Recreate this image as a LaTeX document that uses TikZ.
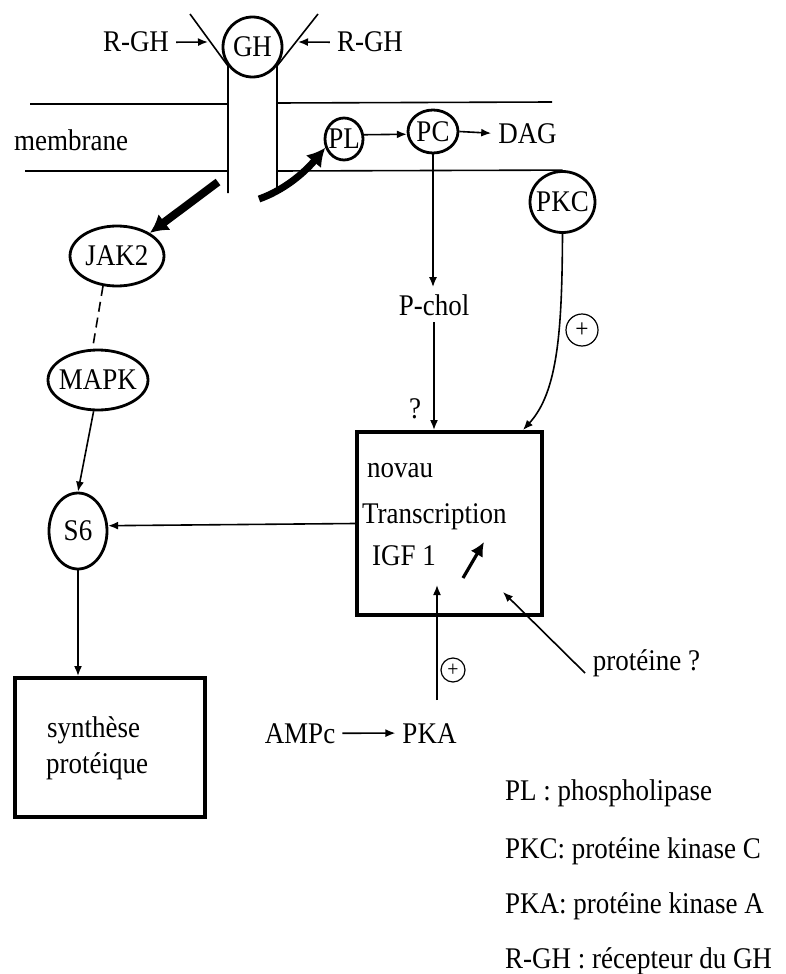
\documentclass[tikz,border=0pt]{standalone}
\usepackage{fontspec}
\setmainfont{Liberation Serif}[FakeStretch=0.9]
\usepackage{tikz}
\usetikzlibrary{calc,shapes,arrows,arrows.meta}

\begin{document}
\begin{tikzpicture}[x=0.5pt,y=-0.5pt,
  font=\fontsize{15}{18}\selectfont,
  >={Latex[length=5pt,width=4pt]},
  mol/.style={draw,ellipse,line width=1.4pt,inner sep=0pt},
  signe/.style={draw,circle,line width=0.6pt,inner sep=0pt,minimum size=#1,font=\fontsize{13}{13}\selectfont},
  fat/.style={line width=4pt,-{Latex[length=9pt,width=10pt]}},
  lien/.style={line width=0.8pt}]
\useasboundingbox (0,0) rectangle (786,974);

% membrane et recepteur
\draw[lien] (30,104) -- (228,104)  (277,103) -- (552,102);
\draw[lien] (25,171) -- (228,171);
\draw[lien] (190,14) -- (228,66) -- (228,193);
\draw[lien] (318,14) -- (277,66) -- (277,190);
\node[anchor=base] (memb) at (71,150) {membrane};

\node[mol,minimum width=29.5pt,minimum height=30pt] (gh) at (252.5,47) {GH};
\node[anchor=base] (rghleft) at (136,52) {R-GH};
\node[anchor=base] (rghright) at (370,52) {R-GH};
\coordinate (rl) at (208,42);
\coordinate (rr) at (298,42);
\draw[lien,->] (rghleft.east) -- (rl);
\draw[lien,->] (rghright.west) -- (rr);

\node[mol,inner xsep=-2pt,minimum width=19pt,minimum height=21pt] (pl) at (344,139) {PL};
\node[mol,minimum width=25pt,minimum height=21.5pt] (pc) at (433,131.5) {PC};
\node[anchor=base] (dag) at (527.5,143) {DAG};
\node[mol,inner xsep=-2.5pt,minimum width=32.5pt,minimum height=30.5pt] (pkc) at (562.5,202) {PKC};
\draw[lien] (277,171) -- (pkc.north);

\node[mol,minimum width=47pt,minimum height=30pt] (jak) at (117,256) {JAK2};
\node[mol,inner xsep=-3pt,minimum width=50pt,minimum height=30pt] (mapk) at (98,380) {MAPK};
\node[mol,minimum width=29pt,minimum height=38pt] (six) at (78,531) {S6};

% grosses fleches
\coordinate (jakfrom) at (218,182);
\coordinate (plfrom) at (259,199);
\draw[fat] (jakfrom) -- (jak.35);
\draw[fat,line width=3.5pt] (plfrom) .. controls (290,188) and (310,166) .. (pl.205);

\draw[lien,->] (pl.12) -- (pc.186);
\draw[lien,->] (pc.east) -- (dag.west);

\node[anchor=base] (pchol) at (434,315) {P-chol};
\node[anchor=base] (quest) at (415,418) {?};

% noyau
\node[draw,line width=2pt,minimum width=92.5pt,minimum height=91.5pt] (noyau) at (449.5,523.5) {};
\node[anchor=base west] (novau) at (360,477) {novau};
\node[anchor=base west] (transc) at (355,523) {Transcription};
\node[anchor=base west] (igf) at (365,565) {IGF 1};
\coordinate (hausa) at (463,578);
\coordinate (hausb) at (484,542);
\draw[line width=1.6pt,-{Latex[length=7pt,width=7pt]}] (hausa) -- (hausb);

\draw[lien,->] (pc.south) -- (pc.south |- pchol.north);
\draw[lien,->] (pchol.south) -- (pchol.south |- noyau.north);
\draw[lien,->] (pkc.south) .. controls (562,330) and (558,392) .. ([xshift=-10.5pt]noyau.north east);
\node[signe=16pt] (plusa) at (582,330) {+};

\draw[lien,dash pattern=on 5pt off 3pt] (jak.245) -- (mapk.100);
\draw[lien,->] (mapk.262) -- (six.north);
\draw[lien,->] (noyau.west) -- (six.10);

\node[draw,line width=2pt,minimum width=95pt,minimum height=69.5pt] (synth) at (110,747.5) {};
\node[anchor=base west] (syna) at (40,737) {synthèse};
\node[anchor=base west] (synb) at (39,773) {protéique};
\draw[lien,->] (six.south) -- (six.south |- synth.north);

% AMPc, PKA, proteine
\node[anchor=base] (ampc) at (300,743) {AMPc};
\node[anchor=base] (pka) at (429.5,743) {PKA};
\draw[lien,->] (ampc.east) -- (pka.west);
\coordinate (pkaup) at (437,700);
\coordinate (igfin) at (437,585);
\draw[lien,->] (pkaup) -- (igfin);
\node[signe=12pt,font=\fontsize{11}{11}\selectfont] (plusb) at (453,670) {+};
\node[anchor=base] (prot) at (646.5,670) {protéine ?};
\coordinate (protfrom) at (585,673);
\coordinate (protto) at (503,592);
\draw[lien,->] (protfrom) -- (protto);

% legende
\node[anchor=base west] (lega) at (498,800) {PL : phospholipase};
\node[anchor=base west] (legb) at (498,858) {PKC: protéine kinase C};
\node[anchor=base west] (legc) at (498,913) {PKA: protéine kinase A};
\node[anchor=base west] (legd) at (498,968) {R-GH : récepteur du GH};
\end{tikzpicture}
\end{document}
